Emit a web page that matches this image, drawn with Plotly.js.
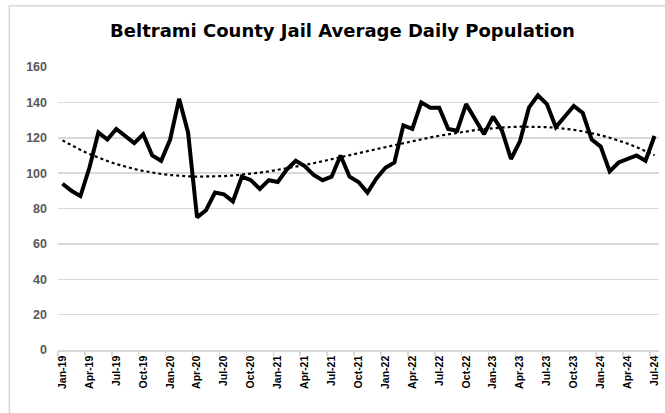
<!DOCTYPE html>
<html>
<head>
<meta charset="utf-8">
<script src="https://cdn.plot.ly/plotly-3.0.1.min.js"></script>
<style>
  html, body { margin: 0; padding: 0; background: #ffffff; }
  #chart { width: 665px; height: 413px; }
</style>
</head>
<body>
<div id="chart"></div>
<script>
// Monthly categories Jan-19 .. Jul-24
const months = ["Jan","Feb","Mar","Apr","May","Jun","Jul","Aug","Sep","Oct","Nov","Dec"];
const years = ["19","20","21","22","23","24"];
const categories = [];
for (const y of years) for (const m of months) categories.push(m + "-" + y);
categories.length = 67;

// Average daily population
const population = [
  94, 90, 87, 103, 123, 119, 125, 121, 117, 122, 110, 107,
  119, 142, 123, 75, 79, 89, 88, 84, 98, 96, 91, 96,
  95, 102, 107, 104, 99, 96, 98, 110, 98, 95, 89, 97,
  103, 106, 127, 125, 140, 137, 137, 125, 124, 139, 131, 122,
  132, 124, 108, 118, 137, 144, 139, 126, 132, 138, 134, 119,
  115, 101, 106, 108, 110, 107, 121
];

// Tick labels shown every 3 months
const tickLabels = ["Jan-19","Apr-19","Jul-19","Oct-19","Jan-20","Apr-20","Jul-20","Oct-20",
  "Jan-21","Apr-21","Jul-21","Oct-21","Jan-22","Apr-22","Jul-22","Oct-22",
  "Jan-23","Apr-23","Jul-23","Oct-23","Jan-24","Apr-24","Jul-24"];
const yTicks = [0, 20, 40, 60, 80, 100, 120, 140, 160];

// Polynomial (order 3) trendline fitted to the series, as in the original spreadsheet
function polyFit(ys, order) {
  const n = ys.length, N = order + 1;
  const xs = ys.map((_, i) => i / (n - 1));
  const A = Array.from({length: N}, () => new Array(N + 1).fill(0));
  for (let k = 0; k < n; k++) {
    for (let r = 0; r < N; r++) {
      for (let c = 0; c < N; c++) A[r][c] += Math.pow(xs[k], r + c);
      A[r][N] += ys[k] * Math.pow(xs[k], r);
    }
  }
  for (let i = 0; i < N; i++) {
    let p = i;
    for (let j = i + 1; j < N; j++) if (Math.abs(A[j][i]) > Math.abs(A[p][i])) p = j;
    [A[i], A[p]] = [A[p], A[i]];
    for (let j = 0; j < N; j++) {
      if (j === i) continue;
      const f = A[j][i] / A[i][i];
      for (let c = i; c <= N; c++) A[j][c] -= f * A[i][c];
    }
  }
  const coef = A.map((row, i) => row[N] / row[i]);
  return xs.map(x => coef.reduce((s, c, i) => s + c * Math.pow(x, i), 0));
}
const trend = polyFit(population, 3);

const idx = categories.map((_, i) => i);
const tickIdx = tickLabels.map(l => categories.indexOf(l));
const boundaryTicks = [];
for (let i = 0; i <= 66; i += 3) boundaryTicks.push(i - 0.5);

const data = [
  {
    x: idx, y: population, type: "scatter", mode: "lines",
    line: {color: "#000000", width: 4, shape: "linear"},
    hoverinfo: "skip", showlegend: false
  },
  {
    x: idx, y: trend, type: "scatter", mode: "lines",
    line: {color: "#000000", width: 2.2, dash: "dot"},
    hoverinfo: "skip", showlegend: false
  },
  {
    x: [-0.5], y: [0], xaxis: "x2", type: "scatter", mode: "markers",
    marker: {opacity: 0}, hoverinfo: "skip", showlegend: false
  }
];

const layout = {
  width: 665, height: 413,
  margin: {l: 58, r: 6, t: 67, b: 63},
  paper_bgcolor: "#ffffff", plot_bgcolor: "#ffffff",
  title: {
    text: "<b>Beltrami County Jail Average Daily Population</b>",
    font: {family: "DejaVu Sans, Liberation Sans, sans-serif", size: 18, color: "#000000"},
    x: 0.515, xanchor: "center", y: 0.925, yanchor: "middle"
  },
  xaxis: {
    range: [-0.5, 66.5], tickmode: "array", tickvals: tickIdx, ticktext: tickLabels,
    tickangle: -90, showgrid: false, zeroline: false, showline: true,
    linecolor: "#d9d9d9", linewidth: 1.5, ticks: "", fixedrange: true,
    tickfont: {family: "Liberation Sans, Arial, sans-serif", size: 10.5, color: "#000000", weight: "bold"}
  },
  xaxis2: {
    range: [-0.5, 66.5], overlaying: "x", anchor: "y", side: "bottom",
    tickmode: "array", tickvals: boundaryTicks, showticklabels: false,
    ticks: "outside", ticklen: 5, tickcolor: "#d9d9d9", tickwidth: 1.5,
    showgrid: false, zeroline: false, showline: false
  },
  yaxis: {
    range: [0, 160], tickmode: "array", tickvals: yTicks,
    showgrid: true, gridcolor: "#d9d9d9", gridwidth: 1.5, zeroline: false,
    showline: false, ticks: "", ticklabelstandoff: 10,
    tickfont: {family: "Liberation Sans, Arial, sans-serif", size: 12.5, color: "#595959", weight: "bold"}
  },
  shapes: [{
    type: "rect", xref: "paper", yref: "paper",
    x0: -0.081, x1: 1.1, y0: -0.3, y1: 1.2166,
    line: {color: "#d9d9d9", width: 1.5}, fillcolor: "rgba(0,0,0,0)", layer: "below"
  }]
};

Plotly.newPlot("chart", data, layout, {displayModeBar: false, staticPlot: true});
</script>
</body>
</html>
